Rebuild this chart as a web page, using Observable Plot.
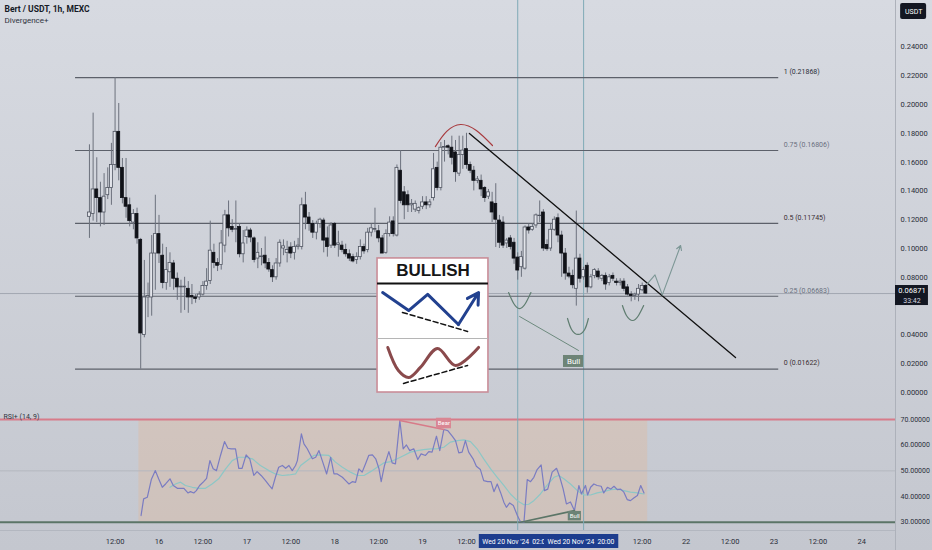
<!DOCTYPE html>
<html>
<head>
<meta charset="utf-8">
<script src="https://cdn.jsdelivr.net/npm/d3@7"></script>
<script src="https://cdn.jsdelivr.net/npm/@observablehq/plot@0.6"></script>
<style>
  body { margin: 0; width: 932px; height: 550px; overflow: hidden;
         background: linear-gradient(#d7dae1, #c4c7cf); font-family: Roboto, sans-serif; }
  #chart svg { display: block; }
</style>
</head>
<body>
<div id="chart"></div>
<script>
// x is hours since Wed 16 Nov 2024 00:00, one candle per hour
const firstHour = -19;
const opens  = [.122,.124,.141,.135,.125,.137,.142,.158,.181,.156,.135,.130,.118,.124,.106,.040,.066,.066,.0965,.110,
  .095,.076,.0835,.0896,.079,.073,.073,.072,.067,.066,.066,.068,.074,.0775,.097,.090,.0885,.102,.123,.115,
  .113,.115,.096,.108,.1125,.107,.093,.094,.095,.090,.085,.080,.0896,.100,.097,.1007,.097,.101,.101,.130,
  .1215,.117,.111,.117,.1194,.107,.102,.117,.1025,.102,.099,.096,.094,.092,.094,.101,.099,.111,.113,.112,
  .107,.097,.110,.1188,.109,.154,.139,.137,.130,.127,.126,.129,.132,.130,.135,.156,.142,.170,.171,.170,
  .1667,.152,.165,.169,.158,.154,.147,.147,.142,.136,.132,.131,.1194,.118,.1035,.107,.104,.0937,.087,.086,
  .1146,.113,.116,.1225,.125,.1025,.100,.113,.121,.109,.0965,.0826,.081,.072,.093,.080,.088,.073,.081,.084,
  .079,.081,.076,.081,.077,.076,.077,.073,.068,.067,.068,.071,.074];
const highs  = [.172,.194,.163,.146,.152,.156,.173,.2187,.2007,.1625,.1625,.135,.127,.128,.107,.0917,.076,.109,.137,.123,
  .103,.1007,.097,.0917,.083,.078,.080,.077,.075,.068,.070,.077,.086,.119,.103,.093,.1125,.1265,.133,.120,
  .133,.117,.1125,.115,.114,.108,.104,.100,.108,.093,.088,.093,.106,.106,.105,.104,.105,.107,.135,.139,
  .125,.1194,.119,.121,.121,.115,.118,.118,.112,.105,.103,.099,.096,.097,.106,.103,.114,.117,.128,.116,
  .109,.113,.122,.122,.158,.168,.143,.140,.134,.133,.129,.136,.136,.134,.166,.160,.1736,.175,.172,.178,
  .175,.178,.178,.180,.160,.157,.150,.151,.143,.141,.139,.145,.123,.122,.107,.109,.107,.097,.098,.1157,
  .117,.117,.124,.133,.127,.106,.117,.122,.124,.112,.100,.087,.085,.126,.096,.087,.090,.082,.086,.086,
  .082,.083,.082,.083,.079,.079,.079,.075,.070,.069,.075,.076,.075];
const lows   = [.107,.119,.118,.115,.116,.134,.130,.154,.147,.131,.121,.115,.113,.103,.0162,.038,.052,.053,.071,.0896,
  .072,.071,.073,.071,.064,.055,.057,.055,.061,.062,.064,.067,.071,.075,.086,.084,.085,.097,.108,.111,
  .104,.0935,.090,.103,.104,.090,.086,.088,.086,.0835,.0764,.078,.087,.095,.090,.093,.092,.099,.099,.113,
  .112,.107,.106,.114,.097,.094,.100,.100,.094,.097,.094,.091,.090,.089,.092,.096,.097,.108,.111,.104,
  .0965,.096,.108,.108,.108,.131,.120,.125,.125,.125,.124,.127,.127,.128,.133,.140,.140,.160,.165,.158,
  .146,.150,.155,.155,.152,.140,.145,.136,.132,.134,.118,.1007,.100,.100,.100,.099,.089,.078,.080,.085,
  .110,.112,.114,.118,.098,.098,.098,.112,.104,.080,.078,.079,.072,.060,.076,.078,.069,.072,.079,.078,
  .077,.071,.074,.077,.074,.074,.070,.067,.063,.064,.063,.070,.068];
const closes = [.125,.141,.135,.125,.136,.142,.158,.181,.156,.135,.129,.119,.124,.107,.041,.066,.067,.0965,.110,.0965,
  .076,.085,.090,.079,.073,.0735,.0735,.066,.066,.065,.068,.074,.077,.0985,.090,.088,.1035,.123,.114,.113,
  .1135,.096,.1035,.1125,.1076,.092,.097,.0945,.0896,.0854,.080,.0896,.104,.1015,.099,.0965,.101,.102,.130,.1215,
  .117,.111,.117,.120,.1055,.101,.116,.102,.1035,.099,.096,.093,.091,.094,.101,.098,.111,.114,.1135,.107,
  .0965,.110,.118,.110,.156,.133,.130,.130,.131,.131,.128,.132,.130,.132,.155,.142,.170,.1705,.170,.163,
  .153,.165,.168,.158,.154,.147,.148,.141,.135,.139,.125,.120,.104,.102,.1055,.101,.093,.0847,.094,.1146,
  .1125,.115,.123,.1228,.100,.0995,.113,.120,.109,.0965,.0826,.0805,.0745,.093,.079,.085,.073,.080,.085,.080,
  .081,.075,.080,.079,.076,.077,.072,.068,.067,.068,.072,.074,.0687];
const lastPrice = 0.06871;

const fibLevels = ["1", "0.75", "0.5", "0.25", "0"];
const fibPrices = [0.21868, 0.16806, 0.11745, 0.06683, 0.01622];
const fibColors = ["#2b2f3a", "#6b7080", "#3a2f33", "#6b7080", "#3a2f33"];
const fibStart = -22.8, fibEnd = 169.3;
const priceTicks = [0, .02, .04, .08, .10, .12, .14, .16, .18, .20, .22, .24];

const markerHours = [98, 116];
const markerDates = ["Wed 20 Nov '24", "Wed 20 Nov '24"];
const markerTimes = ["02:0", "20:00"];
const markerBoxHours = [[87.5, 107.7], [105.3, 125.6]];

const trendHours = [84.8, 157.5], trendPrices = [0.1799, 0.0243];
const arcHours = [75.5, 78.6, 82.4, 86.7, 91.1];
const arcPrices = [0.1708, 0.1813, 0.1861, 0.1819, 0.1715];
const cupHours = [[95.5, 96.9, 98.5, 100.1, 101.6], [111.6, 112.7, 114.5, 116.3, 117.3], [126.6, 127.7, 129.4, 131.0, 132.4]];
const cupPrices = [[.0694, .0618, .0583, .0618, .0694], [.0514, .0438, .0403, .0438, .0514], [.0604, .0535, .0500, .0535, .0604]];
const bullLineHours = [98.5, 114.6], bullLinePrices = [0.0528, 0.0292];
const zigHours = [133.4, 135.5, 137.5, 142.5], zigPrices = [0.0755, 0.0817, 0.0678, 0.1021];

// "BULLISH" pattern card
const boxHours = [59.7, 90.0], boxPrices = [0.0931, 0.0], boxRulePrices = [0.0757, 0.0375];
const blueHours = [61.1, 68.2, 73.4, 81.8, 87.3], bluePrices = [.0694, .0569, .0681, .0472, .0694];
const brownHours = [62.5, 65.4, 68.2, 71.4, 76.1, 81.0, 87.3];
const brownPrices = [.0313, .0153, .0104, .0174, .0306, .0188, .0313];
const dashHours = [[66.5, 84.3], [66.8, 84.3]], dashPrices = [[.0556, .0424], [.0063, .0188]];

// RSI panel
const rsiHours = [-4.9,-4.2,-3.2,-2.1,-1.0,-0.1,0.9,1.8,3.0,3.9,5.0,5.9,6.8,7.9,8.6,9.5,10.2,11.1,12.2,13.0,
  13.9,14.8,15.7,16.8,17.9,18.8,19.7,20.9,21.8,22.7,23.8,24.8,25.9,26.8,27.9,29.1,30.0,30.9,31.8,32.7,
  33.7,34.6,35.5,36.4,37.3,37.8,38.9,39.6,40.5,41.9,42.8,43.7,44.6,45.8,46.9,47.8,48.7,50.1,51.0,51.9,
  52.8,53.7,54.6,55.5,56.4,57.3,58.3,59.2,60.1,60.7,61.6,62.8,63.7,64.6,65.8,66.7,67.6,68.5,69.6,70.7,
  71.6,72.8,73.7,74.6,75.8,76.7,77.8,78.9,80.1,81.0,81.9,82.8,83.7,84.6,85.8,86.7,87.8,88.7,89.8,90.7,
  91.5,92.4,93.3,94.2,94.9,95.8,96.8,97.9,98.8,99.7,100.6,101.5,102.4,103.3,104.4,105.3,106.2,107.4,108.6,109.5,
  110.4,111.3,112.4,113.5,114.7,115.4,116.5,117.1,117.9,118.8,119.7,120.8,121.5,122.5,123.4,124.3,125.2,126.1,127.0,127.9,
  128.8,129.7,130.7,131.6,132.5];
const rsiValues = [32.6,39.1,39.7,46.6,50.1,46.9,43.6,44.9,46.9,44.3,43.2,43.2,43.2,41.4,41.9,41.4,42.3,44.3,45.8,47.1,
  54.0,50.8,50.1,56.0,61.4,58.8,58.6,58.6,51.0,51.0,56.2,54.7,48.2,49.7,48.2,46.2,44.5,43.0,47.5,51.4,
  52.1,51.0,52.1,50.1,52.1,54.0,64.4,60.5,58.6,54.7,55.3,57.9,54.0,48.8,55.3,48.8,48.8,47.5,46.2,44.9,
  45.8,45.5,50.8,49.5,52.7,56.0,56.2,54.7,50.8,45.8,52.1,57.5,53.1,52.7,69.6,58.6,60.1,57.9,58.6,54.4,
  56.6,56.0,57.5,57.3,63.5,57.9,66.1,65.7,63.5,61.8,57.0,57.3,61.8,57.3,54.7,51.8,50.5,46.2,45.8,45.8,
  41.9,44.9,41.6,37.8,35.8,37.5,36.5,32.6,30.0,30.0,46.6,45.8,47.5,50.5,52.3,42.3,42.9,49.5,51.0,47.5,
  43.0,37.1,37.9,34.5,44.3,41.0,44.3,40.6,43.6,44.9,44.3,44.0,41.4,43.6,42.9,44.0,42.7,42.9,41.7,38.8,
  38.4,39.4,40.4,44.3,41.4];
const maHours = [3.0,4.5,5.9,7.2,9.1,10.9,12.7,14.5,16.3,18.2,20.0,21.8,23.6,25.5,27.7,30.0,31.8,33.7,35.5,37.3,
  38.7,40.5,42.3,44.1,46.4,48.2,50.1,52.3,54.2,56.0,57.8,59.6,61.4,63.3,65.1,66.9,68.7,70.5,72.3,74.2,
  76.0,77.8,79.6,81.5,83.3,85.1,86.9,88.7,90.6,92.4,94.2,96.0,97.9,99.7,101.0,102.4,104.2,106.1,107.9,109.2,
  110.6,112.4,114.3,116.1,117.9,119.7,121.5,123.4,125.2,127.0,128.8,130.7,132.5];
const maValues = [43.6,44.9,45.6,44.3,43.6,43.2,43.2,44.9,46.9,50.8,54.0,55.3,55.3,54.7,52.1,50.1,48.8,48.2,48.4,48.8,
  52.1,54.0,56.0,56.2,56.0,53.4,51.4,49.5,48.2,48.2,49.7,51.4,53.1,53.6,54.7,56.0,57.3,57.9,58.3,58.6,
  58.6,59.2,61.2,61.8,62.1,61.4,58.6,54.7,50.8,47.5,44.3,41.0,38.4,36.8,37.0,38.4,41.0,44.5,47.5,48.2,
  46.9,44.9,42.3,40.6,40.6,41.4,41.9,42.7,42.9,42.3,41.7,41.4,41.0];
const rsiTicks = [30, 40, 50, 60, 70];
const rsiBand = [-5.5, 133.5];
const bearHours = [65.8, 77.8], bearValues = [69.6, 66.1];
const rsiBullHours = [98.8, 113.5], rsiBullValues = [30.0, 34.5];

// time axis
const timeTickHours = [-12, 0, 12, 24, 36, 48, 60, 72, 84, 132, 144, 156, 168, 180, 192];
const timeTickLabels = ["12:00", "16", "12:00", "17", "12:00", "18", "12:00", "19", "12:00", "12:00", "22", "12:00", "23", "12:00", "24"];

const xDomain = [-43.3, 201.2];
const fontStyle = {background: "transparent", fontFamily: "Roboto, sans-serif", fontSize: "7.5px", color: "#2a2e39"};
const pts = (hs, vs) => hs.map((h, i) => ({h, v: vs[i]}));

const candles = opens.map((o, i) => ({h: firstHour + i, o, hi: highs[i], lo: lows[i], c: closes[i]}));
const fibs = fibPrices.map((p, i) => ({p, label: `${fibLevels[i]} (${p.toFixed(5)})`, color: fibColors[i]}));
const cups = cupHours.flatMap((hs, k) => hs.map((h, i) => ({k, h, v: cupPrices[k][i]})));
const dashes = dashHours.flatMap((hs, k) => hs.map((h, i) => ({k, h, v: dashPrices[k][i]})));
const zig = pts(zigHours, zigPrices);
const blue = pts(blueHours, bluePrices);

const main = Plot.plot({
  width: 932, height: 404,
  marginLeft: 0, marginRight: 37, marginTop: 0, marginBottom: 0,
  x: {domain: xDomain, axis: null},
  y: {domain: [-0.00833, 0.27222], axis: null},
  style: fontStyle,
  marks: [
    Plot.ruleY([lastPrice], {stroke: "#a2a7b2", strokeWidth: 1}),
    Plot.ruleX(markerHours, {stroke: "#7faab6", strokeWidth: 1}),
    Plot.ruleY(fibs, {y: "p", x1: fibStart, x2: fibEnd, stroke: "#5c606a", strokeWidth: 1.2}),
    Plot.text(fibs, {x: fibEnd, y: "p", text: "label", fill: "color", textAnchor: "start", dx: 5, dy: -6, fontSize: 7}),
    Plot.ruleX(candles, {x: "h", y1: "lo", y2: "hi", stroke: "#6c717d", strokeWidth: 1}),
    Plot.rect(candles, {x1: d => d.h - 0.4, x2: d => d.h + 0.4, y1: "o", y2: "c",
      fill: d => d.c >= d.o ? "#e3e5eb" : "#101218", stroke: d => d.c >= d.o ? "#4f5460" : "#101218", strokeWidth: 0.8}),
    Plot.line(pts(trendHours, trendPrices), {x: "h", y: "v", stroke: "#111", strokeWidth: 1.3}),
    Plot.line(pts(arcHours, arcPrices), {x: "h", y: "v", curve: "natural", stroke: "#a83a3e", strokeWidth: 1.2}),
    Plot.line(cups, {x: "h", y: "v", z: "k", curve: "natural", stroke: "#5f7d70", strokeWidth: 1.2}),
    Plot.line(pts(bullLineHours, bullLinePrices), {x: "h", y: "v", stroke: "#6d8a7e", strokeWidth: 1}),
    Plot.rect([{x1: 110.5, x2: 116.0, y1: 0.0174, y2: 0.0257}], {x1: "x1", x2: "x2", y1: "y1", y2: "y2", fill: "#6e8477"}),
    Plot.text(["Bull"], {x: 113.25, y: 0.0215, fill: "white", fontSize: 8}),
    Plot.line(zig.slice(0, 3), {x: "h", y: "v", stroke: "#7d9796", strokeWidth: 1.1}),
    Plot.arrow([{a: zig[2], b: zig[3]}], {x1: d => d.a.h, y1: d => d.a.v, x2: d => d.b.h, y2: d => d.b.v,
      stroke: "#7d9796", strokeWidth: 1.1, headLength: 7, inset: 0}),
    // pattern card
    Plot.rect([{x1: boxHours[0], x2: boxHours[1], y1: boxPrices[1], y2: boxPrices[0]}],
      {x1: "x1", x2: "x2", y1: "y1", y2: "y2", fill: "white", stroke: "#c98d98", strokeWidth: 1.6}),
    Plot.ruleY([boxRulePrices[0]], {x1: boxHours[0], x2: boxHours[1], stroke: "#111", strokeWidth: 1.8}),
    Plot.ruleY([boxRulePrices[1]], {x1: boxHours[0], x2: boxHours[1], stroke: "#b5b5b5", strokeWidth: 1}),
    Plot.text(["BULLISH"], {x: (boxHours[0] + boxHours[1]) / 2, y: 0.0847, fontSize: 17, fontWeight: "bold",
      fontFamily: "Liberation Sans, Arial, sans-serif", fill: "#161616"}),
    Plot.line(dashes, {x: "h", y: "v", z: "k", stroke: "#111", strokeWidth: 1.5, strokeDasharray: "5,3"}),
    Plot.line(blue.slice(0, 4), {x: "h", y: "v", stroke: "#22418f", strokeWidth: 3}),
    Plot.arrow([{a: blue[3], b: blue[4]}], {x1: d => d.a.h, y1: d => d.a.v, x2: d => d.b.h, y2: d => d.b.v,
      stroke: "#22418f", strokeWidth: 3, headLength: 9, inset: 0}),
    Plot.line(pts(brownHours, brownPrices), {x: "h", y: "v", curve: "catmull-rom", stroke: "#8a4a4c", strokeWidth: 3}),
    // right scale
    Plot.ruleX([xDomain[1]], {stroke: "#adb1ba"}),
    Plot.axisY(priceTicks, {anchor: "right", tickSize: 0, tickPadding: 5, tickFormat: d => d.toFixed(5), label: null, fontSize: 7.5}),
    Plot.rect([{x1: 202.6, x2: 209.7, y1: 0.2590, y2: 0.2701}], {x1: "x1", x2: "x2", y1: "y1", y2: "y2", fill: "#131722", rx: 2}),
    Plot.text(["USDT"], {x: 206.15, y: 0.2646, fill: "white", fontSize: 7}),
    Plot.rect([{x1: 201.2, x2: 210.2, y1: 0.0604, y2: 0.0743}], {x1: "x1", x2: "x2", y1: "y1", y2: "y2", fill: "#131722"}),
    Plot.text([lastPrice.toFixed(5)], {x: 205.7, y: 0.0711, fill: "white", fontSize: 7.5}),
    Plot.text(["33:42"], {x: 205.7, y: 0.0638, fill: "#d8d8e0", fontSize: 7}),
    Plot.frame({anchor: "bottom", stroke: "#b3b7c0"}),
    Plot.text(["Bert / USDT, 1h, MEXC"], {frameAnchor: "top-left", dx: 4, dy: 5, lineAnchor: "top", fontSize: 8.5, fontWeight: "bold", fill: "#161a26"}),
    Plot.text(["Divergence+"], {frameAnchor: "top-left", dx: 4, dy: 16.5, lineAnchor: "top", fontSize: 8, fill: "#30343e"})
  ]
});

const rsi = Plot.plot({
  width: 932, height: 126,
  marginLeft: 0, marginRight: 37, marginTop: 0, marginBottom: 0,
  x: {domain: xDomain, axis: null},
  y: {domain: [26.77, 75.85], axis: null},
  style: fontStyle,
  marks: [
    Plot.rect([{x1: rsiBand[0], x2: rsiBand[1], y1: 30, y2: 70}], {x1: "x1", x2: "x2", y1: "y1", y2: "y2", fill: "#eeb07c", fillOpacity: 0.24}),
    Plot.ruleY([50], {stroke: "#b4b7bf", strokeWidth: 1}),
    Plot.ruleY([70], {stroke: "#d77b89", strokeWidth: 2}),
    Plot.ruleY([30], {stroke: "#5b7567", strokeWidth: 2}),
    Plot.ruleX(markerHours, {stroke: "#7faab6", strokeWidth: 1}),
    Plot.line(pts(maHours, maValues), {x: "h", y: "v", stroke: "#8cc7c6", strokeWidth: 1.2}),
    Plot.line(pts(rsiHours, rsiValues), {x: "h", y: "v", stroke: "#7a7cc2", strokeWidth: 1.2}),
    Plot.line(pts(bearHours, bearValues), {x: "h", y: "v", stroke: "#d77b89", strokeWidth: 1.6}),
    Plot.rect([{x1: 75.8, x2: 79.9, y1: 66.4, y2: 70.5}], {x1: "x1", x2: "x2", y1: "y1", y2: "y2", fill: "#d98693"}),
    Plot.text(["Bear"], {x: 77.85, y: 68.45, fill: "white", fontSize: 6}),
    Plot.line(pts(rsiBullHours, rsiBullValues), {x: "h", y: "v", stroke: "#5b7567", strokeWidth: 1.6}),
    Plot.rect([{x1: 111.8, x2: 115.4, y1: 30.5, y2: 34.2}], {x1: "x1", x2: "x2", y1: "y1", y2: "y2", fill: "#6c8376"}),
    Plot.text(["Bull"], {x: 113.6, y: 32.35, fill: "white", fontSize: 6}),
    Plot.ruleX([xDomain[1]], {stroke: "#adb1ba"}),
    Plot.axisY(rsiTicks, {anchor: "right", tickSize: 0, tickPadding: 5, tickFormat: d => d.toFixed(5), label: null, fontSize: 7}),
    Plot.text(["RSI+ (14, 9)"], {frameAnchor: "top-left", dx: 3, dy: 10, fontSize: 7, fill: "#30343e"})
  ]
});

const timeAxis = Plot.plot({
  width: 932, height: 20,
  marginLeft: 0, marginRight: 37, marginTop: 0, marginBottom: 0,
  x: {domain: xDomain, axis: null},
  y: {domain: [0, 1], axis: null},
  style: fontStyle,
  marks: [
    Plot.frame({anchor: "top", stroke: "#b3b7c0"}),
    Plot.ruleX([xDomain[1]], {stroke: "#adb1ba"}),
    Plot.text(timeTickHours, {x: d => d, y: 0.45, text: (d, i) => timeTickLabels[i],
      fontWeight: (d, i) => timeTickLabels[i] === "18" ? "bold" : "normal", fontSize: 7.5}),
    ...markerHours.flatMap((h, i) => [
      Plot.rect([{x1: markerBoxHours[i][0], x2: markerBoxHours[i][1]}], {x1: "x1", x2: "x2", y1: 0.1, y2: 0.8, fill: "#1d3d8e"}),
      Plot.text([markerDates[i]], {x: markerBoxHours[i][0], y: 0.45, dx: 3, textAnchor: "start", fill: "white", fontSize: 6.8}),
      Plot.text([markerTimes[i]], {x: markerBoxHours[i][0], y: 0.45, dx: 53, textAnchor: "start", fill: "white", fontSize: 6.8})
    ])
  ]
});

const root = document.getElementById("chart");
root.append(main, rsi, timeAxis);
</script>
</body>
</html>
